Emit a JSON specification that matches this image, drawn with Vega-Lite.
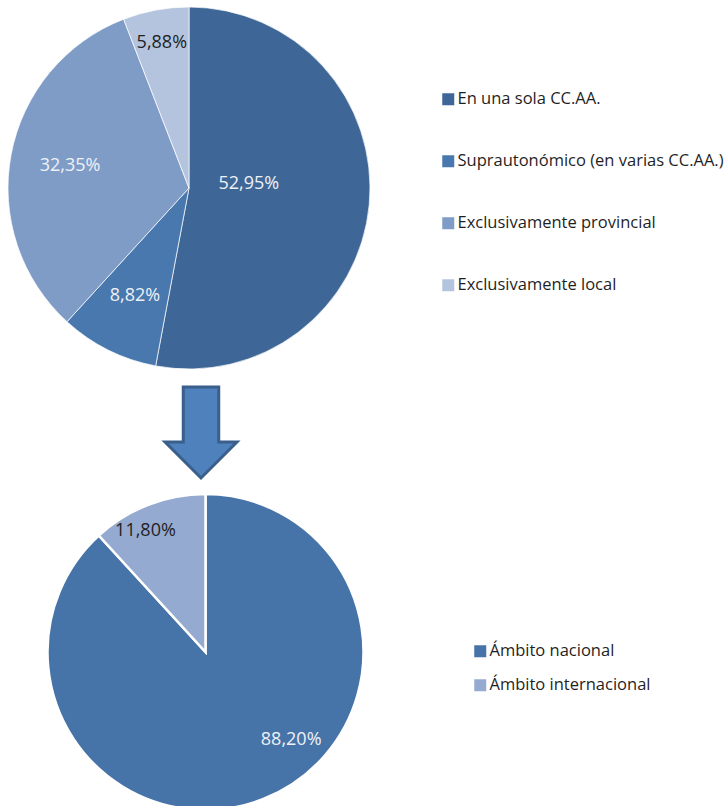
{
  "$schema": "https://vega.github.io/schema/vega-lite/v6.json",
  "padding": 0,
  "background": "white",
  "spacing": 0,
  "config": {
    "view": {"stroke": null},
    "font": "Open Sans",
    "legend": {
      "orient": "none",
      "title": null,
      "symbolType": "square",
      "symbolSize": 144,
      "symbolStrokeWidth": 0,
      "symbolOpacity": 1,
      "labelFont": "Open Sans",
      "labelFontSize": 16.5,
      "labelColor": "#1f1f1f",
      "labelOffset": 1,
      "labelLimit": 400
    }
  },
  "resolve": {"scale": {"color": "independent"}, "legend": {"color": "independent"}},
  "vconcat": [
    {
      "width": 378,
      "height": 376,
      "data": {"values": [
        {"ambito": "En una sola CC.AA.", "porcentaje": 52.95, "etiqueta": "52,95%", "orden": 1},
        {"ambito": "Suprautonómico (en varias CC.AA.)", "porcentaje": 8.82, "etiqueta": "8,82%", "orden": 2},
        {"ambito": "Exclusivamente provincial", "porcentaje": 32.35, "etiqueta": "32,35%", "orden": 3},
        {"ambito": "Exclusivamente local", "porcentaje": 5.88, "etiqueta": "5,88%", "orden": 4}
      ]},
      "encoding": {
        "theta": {"field": "porcentaje", "type": "quantitative", "stack": true},
        "order": {"field": "orden", "type": "quantitative"}
      },
      "layer": [
        {
          "mark": {"type": "arc", "outerRadius": 181, "stroke": "white", "strokeWidth": 0.7},
          "encoding": {
            "color": {
              "field": "ambito", "type": "nominal", "sort": null,
              "scale": {
                "domain": ["En una sola CC.AA.", "Suprautonómico (en varias CC.AA.)", "Exclusivamente provincial", "Exclusivamente local"],
                "range": ["#3e6797", "#4878ae", "#7f9cc7", "#b4c4de"]
              },
              "legend": {"legendX": 440, "legendY": 91, "rowPadding": 45}
            }
          }
        },
        {
          "mark": {"type": "text", "radius": 60, "dy": -10, "fontSize": 18, "fill": "#eef1f6"},
          "encoding": {"text": {"condition": {"test": "datum.orden == 1", "field": "etiqueta", "type": "nominal"}, "value": ""}}
        },
        {
          "mark": {"type": "text", "radius": 121, "fontSize": 18, "fill": "#eef1f6"},
          "encoding": {"text": {"condition": {"test": "datum.orden == 2 || datum.orden == 3", "field": "etiqueta", "type": "nominal"}, "value": ""}}
        },
        {
          "mark": {"type": "text", "radius": 148, "fontSize": 18, "fill": "#1f1f1f"},
          "encoding": {"text": {"condition": {"test": "datum.orden == 4", "field": "etiqueta", "type": "nominal"}, "value": ""}}
        }
      ]
    },
    {
      "width": 402,
      "height": 113,
      "data": {"values": [{"forma": "flecha"}]},
      "mark": {
        "type": "point",
        "shape": "M-0.39,-1L0.39,-1L0.39,0.21L0.79,0.21L0,1L-0.79,0.21L-0.39,0.21Z",
        "size": 8281,
        "filled": true,
        "fill": "#4f81bd",
        "stroke": "#3a5f8b",
        "strokeWidth": 3,
        "opacity": 1
      },
      "encoding": {}
    },
    {
      "width": 411,
      "height": 318,
      "data": {"values": [
        {"ambito": "Ámbito nacional", "porcentaje": 88.2, "etiqueta": "88,20%", "orden": 1},
        {"ambito": "Ámbito internacional", "porcentaje": 11.8, "etiqueta": "11,80%", "orden": 2}
      ]},
      "encoding": {
        "theta": {"field": "porcentaje", "type": "quantitative", "stack": true},
        "order": {"field": "orden", "type": "quantitative"}
      },
      "layer": [
        {
          "mark": {"type": "arc", "outerRadius": 158, "stroke": "white", "strokeWidth": 2.5},
          "encoding": {
            "color": {
              "field": "ambito", "type": "nominal", "sort": null,
              "scale": {
                "domain": ["Ámbito nacional", "Ámbito internacional"],
                "range": ["#4673a8", "#95aad0"]
              },
              "legend": {"legendX": 472, "legendY": 150, "rowPadding": 17}
            }
          }
        },
        {
          "mark": {"type": "text", "radius": 123, "thetaOffset": -0.4, "fontSize": 18, "fill": "#eef1f6"},
          "encoding": {"text": {"condition": {"test": "datum.orden == 1", "field": "etiqueta", "type": "nominal"}, "value": ""}}
        },
        {
          "mark": {"type": "text", "radius": 135, "thetaOffset": -0.09, "fontSize": 18, "fill": "#1f1f1f"},
          "encoding": {"text": {"condition": {"test": "datum.orden == 2", "field": "etiqueta", "type": "nominal"}, "value": ""}}
        }
      ]
    }
  ]
}
